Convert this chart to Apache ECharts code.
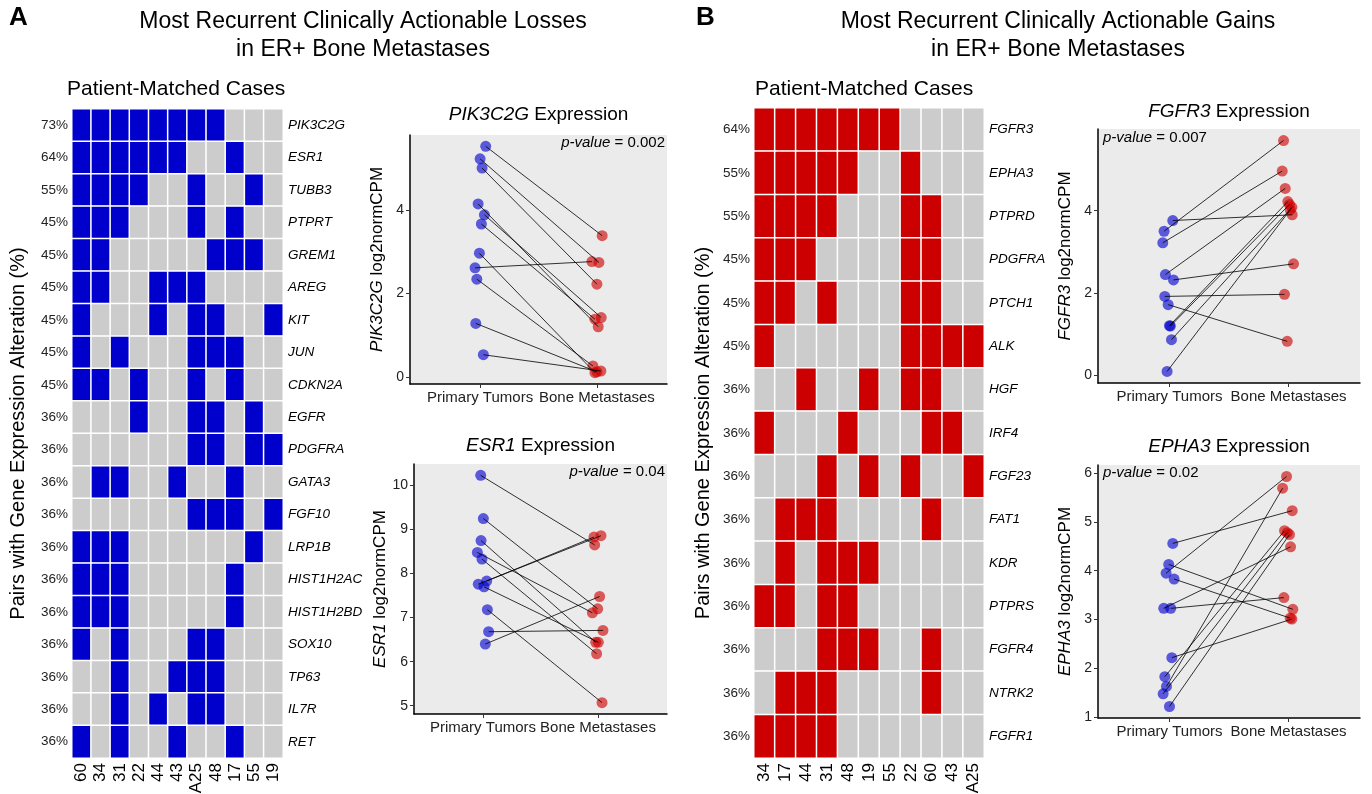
<!DOCTYPE html>
<html><head><meta charset="utf-8">
<script src="https://cdn.jsdelivr.net/npm/echarts@6/dist/echarts.min.js"></script>
<style>html,body{margin:0;padding:0;background:#fff}#c{width:1372px;height:794px}</style>
</head><body><div id="c"></div>
<script>
const FONT = '"Liberation Sans", Arial, Helvetica, sans-serif';

// ---------- Panel A: losses heatmap ----------
const lossPatients = ['60','34','31','22','44','43','A25','48','17','55','19'];
const lossGenes = ['PIK3C2G','ESR1','TUBB3','PTPRT','GREM1','AREG','KIT','JUN','CDKN2A','EGFR','PDGFRA','GATA3','FGF10','LRP1B','HIST1H2AC','HIST1H2BD','SOX10','TP63','IL7R','RET'];
const lossPct = ['73%','64%','55%','45%','45%','45%','45%','45%','45%','36%','36%','36%','36%','36%','36%','36%','36%','36%','36%','36%'];
const lossMatrix = [
  [1,1,1,1,1,1,1,1,0,0,0],
  [1,1,1,1,1,1,0,0,1,0,0],
  [1,1,1,1,0,0,1,0,0,1,0],
  [1,1,1,0,0,0,1,0,1,0,0],
  [1,1,0,0,0,0,0,1,1,1,0],
  [1,1,0,0,1,1,1,0,0,0,0],
  [1,0,0,0,1,0,1,1,0,0,1],
  [1,0,1,0,0,0,1,1,1,0,0],
  [1,1,0,1,0,0,1,0,1,0,0],
  [0,0,0,1,0,0,1,1,0,1,0],
  [0,0,0,0,0,0,1,1,0,1,1],
  [0,1,1,0,0,1,0,0,1,0,0],
  [0,0,0,0,0,0,1,1,1,0,1],
  [1,1,1,0,0,0,0,0,0,1,0],
  [1,1,1,0,0,0,0,0,1,0,0],
  [1,1,1,0,0,0,0,0,1,0,0],
  [1,0,1,0,0,0,1,1,0,0,0],
  [0,0,1,0,0,1,1,1,0,0,0],
  [0,0,1,0,1,0,1,1,0,0,0],
  [1,0,1,0,0,1,0,0,1,0,0]
];

// ---------- Panel B: gains heatmap ----------
const gainPatients = ['34','17','44','31','48','19','55','22','60','43','A25'];
const gainGenes = ['FGFR3','EPHA3','PTPRD','PDGFRA','PTCH1','ALK','HGF','IRF4','FGF23','FAT1','KDR','PTPRS','FGFR4','NTRK2','FGFR1'];
const gainPct = ['64%','55%','55%','45%','45%','45%','36%','36%','36%','36%','36%','36%','36%','36%','36%'];
const gainMatrix = [
  [1,1,1,1,1,1,1,0,0,0,0],
  [1,1,1,1,1,0,0,1,0,0,0],
  [1,1,1,1,0,0,0,1,1,0,0],
  [1,1,1,0,0,0,0,1,1,0,0],
  [1,1,0,1,0,0,0,1,1,0,0],
  [1,0,0,0,0,0,0,1,1,1,1],
  [0,0,1,0,0,1,0,1,1,0,0],
  [1,0,0,0,1,0,0,0,1,1,0],
  [0,0,0,1,0,1,0,1,0,0,1],
  [0,1,1,1,0,0,0,0,1,0,0],
  [0,1,0,1,1,1,0,0,0,0,0],
  [1,1,0,1,1,0,0,0,0,0,0],
  [0,0,0,1,1,1,0,0,1,0,0],
  [0,1,1,1,0,0,0,0,1,0,0],
  [1,1,1,1,0,0,0,0,0,0,0]
];

// ---------- Paired expression plots ----------
const groupLabels = ['Primary Tumors', 'Bone Metastases'];

const pik3c2gPrimary = [5.52, 5.22, 5.00, 4.14, 3.88, 3.66, 2.96, 2.61, 2.34, 1.28, 0.53];
const pik3c2gBone    = [3.38, 2.74, 2.22, 1.20, 1.42, 1.38, 0.10, 2.76, 0.26, 0.12, 0.14];
const pik3c2gJitterP = [0.048, 0.000, 0.017, -0.017, 0.037, 0.011, -0.006, -0.043, -0.028, -0.037, 0.028];
const pik3c2gJitterB = [0.045, 0.017, 0.000, 0.011, 0.037, -0.017, -0.017, -0.043, -0.034, 0.000, 0.034];
const pik3c2gTicks = [0, 2, 4];

const esr1Primary = [10.23, 9.25, 8.75, 8.48, 8.33, 7.76, 7.83, 7.70, 7.18, 6.68, 6.40];
const esr1Bone    = [8.65, 7.20, 6.44, 7.11, 6.18, 8.86, 8.83, 6.44, 5.07, 6.71, 7.48];
const esr1JitterP = [-0.020, 0.003, -0.017, -0.049, -0.009, -0.041, 0.032, 0.009, 0.038, 0.049, 0.020];
const esr1JitterB = [-0.029, -0.003, -0.020, -0.049, -0.012, 0.026, -0.035, 0.003, 0.035, 0.043, 0.014];
const esr1Ticks = [5, 6, 7, 8, 9, 10];

const fgfr3Primary = [3.76, 3.50, 3.22, 2.45, 2.32, 1.92, 1.72, 1.21, 1.20, 0.87, 0.10];
const fgfr3Bone    = [3.90, 5.70, 4.96, 4.54, 2.71, 1.97, 0.83, 4.22, 4.15, 4.08, 4.02];
const fgfr3JitterP = [0.028, -0.045, -0.056, -0.034, 0.034, -0.039, -0.011, 0.000, 0.008, 0.017, -0.020];
const fgfr3JitterB = [0.031, -0.042, -0.053, -0.028, 0.042, -0.034, -0.011, -0.006, 0.008, 0.028, 0.014];
const fgfr3Ticks = [0, 2, 4];

const epha3Primary = [4.56, 4.13, 3.95, 3.83, 3.23, 3.23, 2.22, 1.83, 1.63, 1.48, 1.22];
const epha3Bone    = [5.23, 3.21, 5.93, 3.03, 3.45, 4.49, 3.01, 4.82, 5.69, 4.78, 4.74];
const epha3JitterP = [0.028, -0.006, -0.028, 0.039, 0.011, -0.048, 0.020, -0.039, -0.025, -0.053, 0.000];
const epha3JitterB = [0.031, 0.036, -0.017, 0.014, -0.039, 0.017, 0.028, -0.034, -0.050, -0.011, 0.008];
const epha3Ticks = [1, 2, 3, 4, 5, 6];

const plots = [
  {gene: 'PIK3C2G', p: '0.002', prim: pik3c2gPrimary, bone: pik3c2gBone, jp: pik3c2gJitterP, jb: pik3c2gJitterB, ticks: pik3c2gTicks,
   grid: {left: 410, top: 135, width: 257, height: 249}, pSide: 'right', titleY: 115, pY: 143},
  {gene: 'ESR1', p: '0.04', prim: esr1Primary, bone: esr1Bone, jp: esr1JitterP, jb: esr1JitterB, ticks: esr1Ticks,
   grid: {left: 414, top: 464, width: 253, height: 250}, pSide: 'right', titleY: 446, pY: 472},
  {gene: 'FGFR3', p: '0.007', prim: fgfr3Primary, bone: fgfr3Bone, jp: fgfr3JitterP, jb: fgfr3JitterB, ticks: fgfr3Ticks,
   grid: {left: 1098, top: 129, width: 262, height: 254}, pSide: 'left', titleY: 112, pY: 138},
  {gene: 'EPHA3', p: '0.02', prim: epha3Primary, bone: epha3Bone, jp: epha3JitterP, jb: epha3JitterB, ticks: epha3Ticks,
   grid: {left: 1098, top: 465, width: 262, height: 253}, pSide: 'left', titleY: 447, pY: 473}
];

const BLUE = '#0000cc', RED = '#cc0000', GREY = '#cccccc';

function heatData(matrix) {
  const out = [];
  matrix.forEach((row, gi) => row.forEach((v, pi) => out.push([pi, gi, v])));
  return out;
}

const grids = [
  {left: 72, top: 109, width: 211, height: 649, outerBoundsMode: 'none'},
  {left: 754, top: 108, width: 230, height: 650, outerBoundsMode: 'none'}
];
const xAxes = [], yAxes = [], series = [], graphics = [];

function heatAxes(gi, patients, genes, pct, nameGap) {
  xAxes.push({
    gridIndex: gi, type: 'category', data: patients, position: 'bottom',
    axisLine: {show: false}, axisTick: {show: false},
    axisLabel: {rotate: 90, interval: 0, fontSize: 17, margin: 5, color: '#000', fontFamily: FONT}
  });
  yAxes.push({
    gridIndex: gi, type: 'category', data: genes, inverse: true, position: 'left',
    axisLine: {show: false}, axisTick: {show: false},
    axisLabel: {interval: 0, fontSize: 13.5, margin: 4, color: '#222', fontFamily: FONT,
      formatter: (v, i) => pct[i]},
    name: 'Pairs with Gene Expression Alteration (%)', nameLocation: 'middle', nameGap: nameGap,
    nameTextStyle: {fontSize: 20, color: '#000', fontFamily: FONT}
  });
  yAxes.push({
    gridIndex: gi, type: 'category', data: genes, inverse: true, position: 'right',
    axisLine: {show: false}, axisTick: {show: false},
    axisLabel: {interval: 0, fontSize: 13.5, margin: 5, color: '#000', fontStyle: 'italic', fontFamily: FONT}
  });
}
heatAxes(0, lossPatients, lossGenes, lossPct, 44);
heatAxes(1, gainPatients, gainGenes, gainPct, 41);

series.push({type: 'heatmap', xAxisIndex: 0, yAxisIndex: 0, data: heatData(lossMatrix),
  itemStyle: {borderColor: '#fff', borderWidth: 1.5}, emphasis: {disabled: true}, silent: true});
series.push({type: 'heatmap', xAxisIndex: 1, yAxisIndex: 2, data: heatData(gainMatrix),
  itemStyle: {borderColor: '#fff', borderWidth: 1.5}, emphasis: {disabled: true}, silent: true});

function extent(a, b) {
  const all = a.concat(b);
  const mn = Math.min(...all), mx = Math.max(...all);
  const pad = (mx - mn) * 0.05;
  return [mn - pad, mx + pad];
}

plots.forEach((pl, k) => {
  const gi = grids.length;
  grids.push(Object.assign({outerBoundsMode: 'none', show: true, backgroundColor: '#ebebeb', borderWidth: 0}, pl.grid));
  const xi = xAxes.length, yi = yAxes.length;
  const ext = extent(pl.prim, pl.bone);
  xAxes.push({
    gridIndex: gi, type: 'value', min: 0.4, max: 2.6,
    axisLine: {show: true, onZero: false, lineStyle: {color: '#000', width: 1.5}},
    axisTick: {show: true, customValues: [1, 2], length: 4, lineStyle: {color: '#333'}},
    axisLabel: {customValues: [1, 2], formatter: v => groupLabels[Math.round(v) - 1],
      fontSize: 15, margin: 6, color: '#222', fontFamily: FONT},
    splitLine: {show: false}
  });
  yAxes.push({
    gridIndex: gi, type: 'value', min: ext[0], max: ext[1],
    axisLine: {show: true, onZero: false, lineStyle: {color: '#000', width: 1.5}},
    axisTick: {show: true, customValues: pl.ticks, length: 4, lineStyle: {color: '#333'}},
    axisLabel: {customValues: pl.ticks, fontSize: 14, margin: 6, color: '#222', fontFamily: FONT},
    splitLine: {show: false},
    name: '{i|' + pl.gene + '} log2normCPM', nameLocation: 'middle', nameGap: 24,
    nameTextStyle: {fontSize: 17, color: '#000', fontFamily: FONT,
      rich: {i: {fontStyle: 'italic', fontSize: 17, color: '#000', fontFamily: FONT}}}
  });
  const primPts = pl.prim.map((v, i) => [1 + pl.jp[i], v]);
  const bonePts = pl.bone.map((v, i) => [2 + pl.jb[i], v]);
  series.push({type: 'scatter', xAxisIndex: xi, yAxisIndex: yi, data: primPts, symbolSize: 11,
    itemStyle: {color: 'rgba(0,0,205,0.78)'}, z: 2, silent: true});
  series.push({type: 'scatter', xAxisIndex: xi, yAxisIndex: yi, data: bonePts, symbolSize: 11,
    itemStyle: {color: 'rgba(205,0,0,0.78)'}, z: 2, silent: true});
  series.push({type: 'lines', coordinateSystem: 'cartesian2d', xAxisIndex: xi, yAxisIndex: yi,
    data: primPts.map((p, i) => ({coords: [p, bonePts[i]]})),
    lineStyle: {color: '#000', width: 0.8, opacity: 1}, z: 5, silent: true});

  const cx = pl.grid.left + pl.grid.width / 2;
  graphics.push({type: 'text', x: cx, y: pl.titleY, style: {
    text: '{i|' + pl.gene + '} Expression', fontSize: 19, fontFamily: FONT, fill: '#000',
    align: 'center', verticalAlign: 'middle', textAlign: 'center', textVerticalAlign: 'middle',
    rich: {i: {fontStyle: 'italic', fontSize: 19, fontFamily: FONT, fill: '#000'}}}});
  const right = pl.pSide === 'right';
  graphics.push({type: 'text', x: right ? pl.grid.left + pl.grid.width - 2 : pl.grid.left + 5, y: pl.pY, z: 10, style: {
    text: '{i|p-value} = ' + pl.p, fontSize: 15, fontFamily: FONT, fill: '#000',
    align: right ? 'right' : 'left', verticalAlign: 'middle',
    textAlign: right ? 'right' : 'left', textVerticalAlign: 'middle',
    rich: {i: {fontStyle: 'italic', fontSize: 15, fontFamily: FONT, fill: '#000'}}}});
});

function txt(x, y, text, size, opts) {
  graphics.push({type: 'text', x: x, y: y, style: Object.assign({
    text: text, fontSize: size, fontFamily: FONT, fill: '#000',
    align: 'left', verticalAlign: 'middle', textAlign: 'left', textVerticalAlign: 'middle'}, opts || {})});
}
txt(9, 18, 'A', 26, {fontWeight: 'bold'});
txt(696, 18, 'B', 26, {fontWeight: 'bold'});
txt(363, 22, 'Most Recurrent Clinically Actionable Losses', 23, {align: 'center', textAlign: 'center'});
txt(363, 50, 'in ER+ Bone Metastases', 23, {align: 'center', textAlign: 'center'});
txt(1058, 22, 'Most Recurrent Clinically Actionable Gains', 23, {align: 'center', textAlign: 'center'});
txt(1058, 50, 'in ER+ Bone Metastases', 23, {align: 'center', textAlign: 'center'});
txt(67, 89, 'Patient-Matched Cases', 21);
txt(755, 89, 'Patient-Matched Cases', 21);

const option = {
  animation: false,
  backgroundColor: '#fff',
  textStyle: {fontFamily: FONT},
  grid: grids,
  xAxis: xAxes,
  yAxis: yAxes,
  visualMap: [
    {type: 'piecewise', show: false, seriesIndex: 0, dimension: 2,
     pieces: [{value: 0, color: GREY}, {value: 1, color: BLUE}]},
    {type: 'piecewise', show: false, seriesIndex: 1, dimension: 2,
     pieces: [{value: 0, color: GREY}, {value: 1, color: RED}]}
  ],
  series: series,
  graphic: graphics
};

const chart = echarts.init(document.getElementById('c'), null, {renderer: 'canvas'});
chart.setOption(option);
</script>
</body></html>
